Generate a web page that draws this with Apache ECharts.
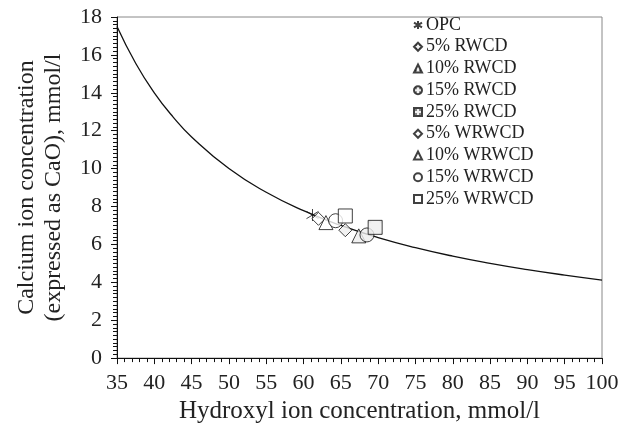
<!DOCTYPE html>
<html>
<head>
<meta charset="utf-8">
<script src="https://cdn.jsdelivr.net/npm/echarts@6/dist/echarts.min.js"></script>
<style>
html, body { margin: 0; padding: 0; background: #fff; }
#chart { width: 633px; height: 429px; }
</style>
</head>
<body>
<div id="chart"></div>
<script>
// limit curve (hydroxyl, calcium)
var curveX = [35, 37.5, 40, 42.5, 45, 50, 55, 60, 65, 70, 75, 80, 85, 90, 95, 100];
var curveY = [17.5, 15.56, 14.0, 12.73, 11.67, 10.0, 8.75, 7.78, 7.0, 6.36, 5.83, 5.38, 5.0, 4.67, 4.38, 4.12];

var names = ['OPC', '5% RWCD', '10% RWCD', '15% RWCD', '25% RWCD',
             '5% WRWCD', '10% WRWCD', '15% WRWCD', '25% WRWCD'];
var hydroxyl = [61.2, 65.6, 67.4, 68.5, 69.6, 62.0, 63.0, 64.3, 65.6];
var calcium  = [7.55, 6.75, 6.45, 6.5, 6.9, 7.35, 7.15, 7.25, 7.5];

var serif = '"Liberation Serif", "DejaVu Serif", serif';

// dotted fill for the RWCD markers
function dotPattern() {
    var c = document.createElement('canvas');
    c.width = 4; c.height = 4;
    var ctx = c.getContext('2d');
    ctx.fillStyle = '#eeeeee';
    ctx.fillRect(0, 0, 4, 4);
    ctx.fillStyle = '#666';
    ctx.fillRect(1, 1, 2, 2);
    return { image: c, repeat: 'repeat' };
}

var asterisk = 'path://M5,0L5,10M0,2L10,8M10,2L0,8';
var symbols = [asterisk, 'diamond', 'triangle', 'circle', 'rect',
               'diamond', 'triangle', 'circle', 'rect'];
var sizes = [12, 13, 14, 14, 14, 13, 14, 14, 14];

var series = [{
    name: 'curve',
    type: 'line',
    smooth: true,
    symbol: 'none',
    silent: true,
    lineStyle: { color: '#111', width: 1.3 },
    data: curveX.map(function (x, i) { return [x, curveY[i]]; }),
    z: 1
}];

for (var i = 0; i < names.length; i++) {
    var fill;
    if (i === 0) fill = 'rgba(0,0,0,0)';
    else if (i < 5) fill = dotPattern();
    else fill = '#fff';
    series.push({
        name: names[i],
        type: 'scatter',
        symbol: symbols[i],
        symbolSize: sizes[i],
        itemStyle: {
            color: fill,
            borderColor: '#111',
            borderWidth: 1
        },
        data: [[hydroxyl[i], calcium[i]]],
        z: 3
    });
}

var myChart = echarts.init(document.getElementById('chart'));
var option = {
    animation: false,
    backgroundColor: '#fff',
    grid: {
        left: 117,
        right: 31,
        top: 17,
        bottom: 70,
        show: true,
        borderColor: '#888',
        borderWidth: 1
    },
    legend: {
        data: names,
        orient: 'vertical',
        left: 408,
        top: 11,
        itemWidth: 8,
        itemHeight: 8,
        itemGap: 3.75,
        textStyle: {
            fontFamily: serif,
            fontSize: 18,
            color: '#222',
            lineHeight: 18,
            padding: [0, 0, 0, -1]
        }
    },
    xAxis: {
        type: 'value',
        min: 35,
        max: 100,
        interval: 5,
        name: 'Hydroxyl ion concentration, mmol/l',
        nameLocation: 'middle',
        nameGap: 40,
        nameTextStyle: { fontFamily: serif, fontSize: 25, color: '#222' },
        axisLine: { lineStyle: { color: '#111', width: 1 } },
        axisTick: { inside: false, length: 6, lineStyle: { color: '#111' } },
        minorTick: { show: true, splitNumber: 5, length: 4, lineStyle: { color: '#111' } },
        axisLabel: { fontFamily: serif, fontSize: 22, color: '#222', margin: 14 },
        splitLine: { show: false }
    },
    yAxis: {
        type: 'value',
        min: 0,
        max: 18,
        interval: 2,
        name: 'Calcium ion concentration\n(expressed as CaO), mmol/l',
        nameLocation: 'middle',
        nameGap: 50,
        nameTextStyle: { fontFamily: serif, fontSize: 24, color: '#222', lineHeight: 27 },
        axisLine: { lineStyle: { color: '#111', width: 1 } },
        axisTick: { inside: false, length: 6, lineStyle: { color: '#111' } },
        minorTick: { show: true, splitNumber: 10, length: 4, lineStyle: { color: '#111' } },
        axisLabel: { fontFamily: serif, fontSize: 22, color: '#222', margin: 15 },
        splitLine: { show: false }
    },
    series: series
};
myChart.setOption(option);
</script>
</body>
</html>
